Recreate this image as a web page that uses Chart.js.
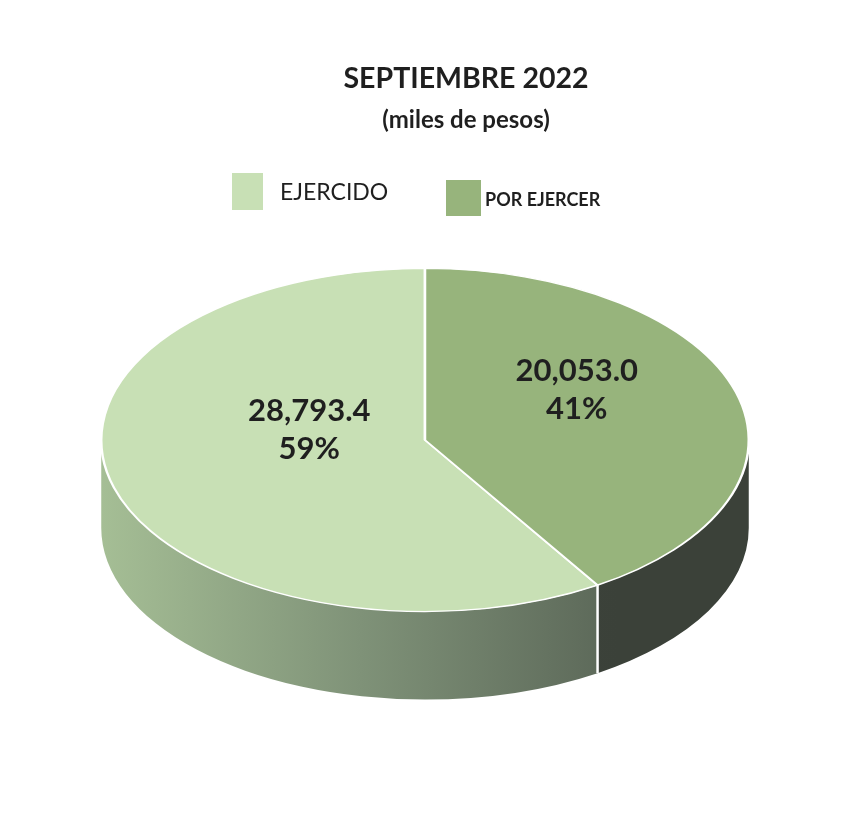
<!DOCTYPE html>
<html>
<head>
<meta charset="utf-8">
<script src="https://cdn.jsdelivr.net/npm/chart.js@4.4.1/dist/chart.umd.min.js"></script>
<style>
  html, body { margin: 0; padding: 0; background: #fff; }
  #wrap { width: 847px; height: 838px; }
</style>
</head>
<body>
<div id="wrap"><canvas id="pieChart"></canvas></div>
<script>
// data
const categories = ['EJERCIDO', 'POR EJERCER'];
const values = [28793.4, 20053.0];
const titleText = 'SEPTIEMBRE 2022';
const subtitleText = '(miles de pesos)';

const topColors = ['#c8e0b5', '#97b47c'];
const sideColors = [['#a5be95', '#7f9278', '#5b6758'], ['#474e44', '#3b4139']];
const FONT = "Lato, 'Open Sans', sans-serif";
const TEXT = '#1f1f1f';
const TILT = 0.53;    // vertical squash of the top face
const DEPTH = 88;     // height of the pie side

const total = values.reduce((a, b) => a + b, 0);

function sideGradient(ctx, cx, R, stops) {
    const g = ctx.createLinearGradient(cx - R, 0, cx + R * 0.6, 0);
    stops.forEach((c, i) => g.addColorStop(i / (stops.length - 1), c));
    return g;
}

// draws the extruded side, then squashes the canvas so the pie top becomes an ellipse
const pie3d = {
    id: 'pie3d',
    beforeDatasetsDraw(chart) {
        const ctx = chart.ctx;
        const arcs = chart.getDatasetMeta(0).data;
        const cx = arcs[0].x, cy = arcs[0].y;
        const R = arcs[0].outerRadius, r = R * TILT;
        const windows = [[-2 * Math.PI, -Math.PI], [0, Math.PI], [2 * Math.PI, 3 * Math.PI]];

        ctx.save();
        arcs.forEach((arc, i) => {
            windows.forEach(([lo, hi]) => {
                const a1 = Math.max(arc.startAngle, lo);
                const a2 = Math.min(arc.endAngle, hi);
                if (a2 <= a1) return;
                ctx.beginPath();
                ctx.ellipse(cx, cy, R, r, 0, a1, a2);
                ctx.ellipse(cx, cy + DEPTH, R, r, 0, a2, a1, true);
                ctx.closePath();
                ctx.fillStyle = sideGradient(ctx, cx, R, sideColors[i]);
                ctx.fill();
            });
        });
        // white seams where slices meet on the visible side
        ctx.strokeStyle = '#ffffff';
        ctx.lineWidth = 2.5;
        arcs.forEach(arc => {
            const a = arc.startAngle;
            if (Math.sin(a) > 0.02) {
                const x = cx + Math.cos(a) * R, y = cy + Math.sin(a) * r;
                ctx.beginPath();
                ctx.moveTo(x, y);
                ctx.lineTo(x, y + DEPTH);
                ctx.stroke();
            }
        });
        ctx.restore();

        ctx.save();
        ctx.translate(cx, cy);
        ctx.scale(1, TILT);
        ctx.translate(-cx, -cy);
    },
    afterDatasetsDraw(chart) {
        const ctx = chart.ctx;
        ctx.restore();

        const arcs = chart.getDatasetMeta(0).data;
        ctx.save();
        ctx.fillStyle = TEXT;
        ctx.font = 'bold 31px ' + FONT;
        ctx.textAlign = 'center';
        ctx.textBaseline = 'middle';
        arcs.forEach((arc, i) => {
            const mid = (arc.startAngle + arc.endAngle) / 2;
            const d = arc.outerRadius * 0.43;
            const x = arc.x + Math.cos(mid) * d + 18;
            const y = arc.y + Math.sin(mid) * d * TILT - 30;
            const v = values[i].toLocaleString('en-US', { minimumFractionDigits: 1, maximumFractionDigits: 1 });
            const p = Math.round(values[i] / total * 100) + '%';
            ctx.fillText(v, x, y - 19);
            ctx.fillText(p, x, y + 19);
        });
        ctx.restore();
    }
};

// title and legend as in the original sheet
const header = {
    id: 'header',
    afterDraw(chart) {
        const ctx = chart.ctx;
        ctx.save();
        ctx.fillStyle = TEXT;
        ctx.textAlign = 'center';
        ctx.textBaseline = 'middle';
        ctx.font = 'bold 28.5px ' + FONT;
        ctx.fillText(titleText, 466, 79);
        ctx.font = 'bold 24px ' + FONT;
        ctx.fillText(subtitleText, 466, 120);

        const items = [
            { x: 232, y: 173, w: 31, h: 37, gap: 17, size: 23, ty: 193 },
            { x: 446, y: 180, w: 35, h: 36, gap: 4, size: 18, ty: 200 }
        ];
        ctx.textAlign = 'left';
        items.forEach((it, i) => {
            ctx.fillStyle = topColors[i];
            ctx.fillRect(it.x, it.y, it.w, it.h);
            ctx.fillStyle = TEXT;
            ctx.font = (i === 0 ? '' : 'bold ') + it.size + 'px ' + FONT;
            ctx.fillText(categories[i], it.x + it.w + it.gap, it.ty);
        });
        ctx.restore();
    }
};

const rotation = values[1] / total * 360;

new Chart(document.getElementById('pieChart'), {
    type: 'pie',
    data: {
        labels: categories,
        datasets: [{
            data: values,
            backgroundColor: topColors,
            borderColor: '#ffffff',
            borderWidth: 2.5
        }]
    },
    options: {
        responsive: true,
        maintainAspectRatio: false,
        animation: false,
        events: [],
        rotation: rotation,
        layout: {
            padding: { left: 100, right: 97, top: 115, bottom: 73 }
        },
        plugins: {
            legend: { display: false },
            title: { display: false },
            tooltip: { enabled: false }
        }
    },
    plugins: [pie3d, header]
});
</script>
</body>
</html>
